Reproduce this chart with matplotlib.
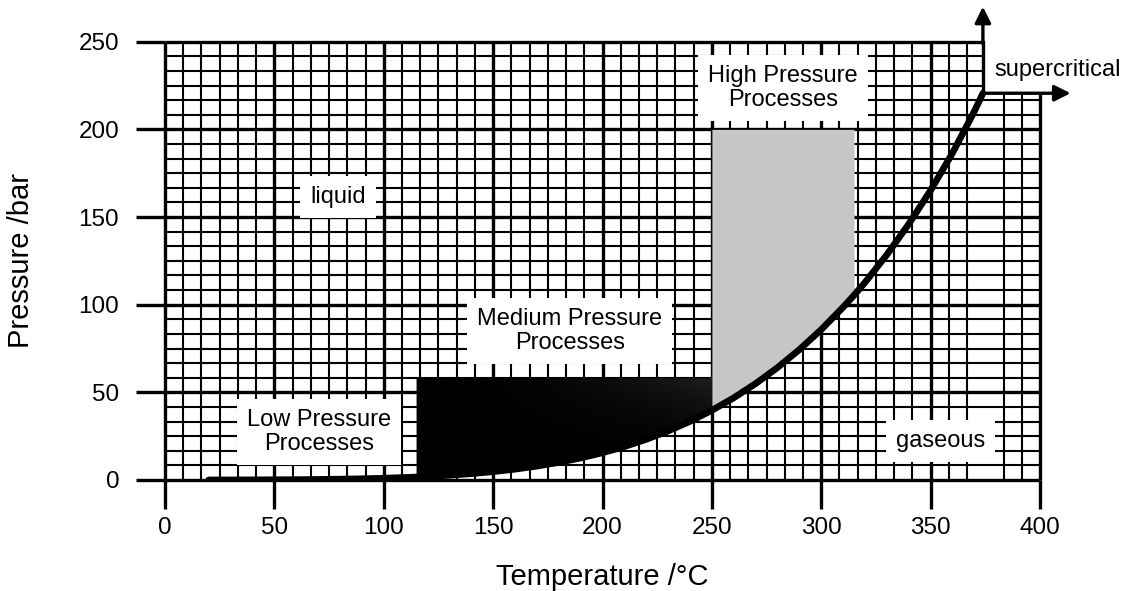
import numpy as np
import matplotlib
matplotlib.use("Agg")
import matplotlib.pyplot as plt
from matplotlib.patches import Polygon

plt.rcParams['font.family'] = ['Liberation Sans', 'DejaVu Sans']

# Saturation (vapour pressure) curve of water
temp_c = [20, 30, 40, 50, 60, 70, 80, 90, 100, 110, 115, 120, 130, 140, 150,
          160, 170, 180, 190, 200, 210, 220, 230, 240, 250, 260, 270, 280,
          290, 300, 310, 315, 320, 330, 340, 350, 360, 370, 373.9]
p_sat_bar = [0.023, 0.042, 0.074, 0.124, 0.199, 0.312, 0.474, 0.701, 1.013,
             1.433, 1.691, 1.985, 2.701, 3.614, 4.76, 6.18, 7.92, 10.03,
             12.55, 15.54, 19.06, 23.18, 27.95, 33.44, 39.73, 46.88, 54.99,
             64.12, 74.36, 85.81, 98.56, 105.4, 112.7, 128.5, 146.0, 165.2,
             186.5, 210.3, 220.6]

# Critical point
t_crit, p_crit = 373.9, 220.6

# Process windows: (T from, T to, upper pressure)
low_window = (20, 115, 2.0)
medium_window = (115, 250, 58.0)
high_window = (250, 315, 200.0)

x_ticks = [0, 50, 100, 150, 200, 250, 300, 350, 400]
y_ticks = [0, 50, 100, 150, 200, 250]

T = np.array(temp_c)
P = np.array(p_sat_bar)

fig = plt.figure(figsize=(11.28, 5.91), dpi=100)
ax = fig.add_axes([165 / 1128, 111 / 591, 875 / 1128, 438.3 / 591])
ax.set_xlim(0, 400)
ax.set_ylim(0, 250)
for s in ax.spines.values():
    s.set_visible(False)

# Graph-paper grid: six subdivisions per 50 units, stepped corner at the critical point
step = 50 / 6
for k in range(49):
    x = k * step
    if abs(x - t_crit) < 3:
        continue
    top = 250 if x < t_crit else p_crit
    lw = 2.4 if k % 6 == 0 else 1.5
    ax.plot([x, x], [0, top], color='k', lw=lw, zorder=1, clip_on=False,
            solid_capstyle='butt')
for k in range(31):
    y = k * step
    right = 400 if y <= p_crit else t_crit
    lw = 2.4 if k % 6 == 0 else 1.5
    ax.plot([0, right], [y, y], color='k', lw=lw, zorder=1, clip_on=False,
            solid_capstyle='butt')
ax.plot([t_crit, t_crit], [p_crit, 250], color='k', lw=2.4, zorder=1,
        clip_on=False)

# Low-pressure band along the curve
t0, t1, ptop = low_window
m = (T >= t0) & (T <= t1)
ax.fill_between(T[m], P[m], ptop, color='k', lw=0, zorder=2)

# Medium-pressure window (dark, faintly lighter towards the upper right)
t0, t1, ptop = medium_window
m = (T >= t0) & (T <= t1)
verts = list(zip(T[m], P[m])) + [(t1, ptop), (t0, ptop)]
poly = Polygon(verts, closed=True, facecolor='k', edgecolor='none', zorder=2)
ax.add_patch(poly)
gx = np.linspace(0, 1, 200)
gy = np.linspace(0, 1, 60)
GX, GY = np.meshgrid(gx, gy)
shade = 0.12 * GX ** 2 * GY ** 2
im = ax.imshow(shade, extent=[t0, t1, 0, ptop], origin='lower', cmap='gray',
               vmin=0, vmax=1, aspect='auto', zorder=2.1, interpolation='bilinear')
im.set_clip_path(poly)

# High-pressure window
t0, t1, ptop = high_window
m = (T >= t0) & (T <= t1)
ax.fill_between(T[m], P[m], ptop, color='#c6c6c6', lw=0, zorder=2)

# Saturation curve
ax.plot(T, P, color='k', lw=4.8, zorder=3, solid_capstyle='round')

# Supercritical arrows
ax.annotate('', xy=(t_crit, 270), xytext=(t_crit, 249),
            arrowprops=dict(arrowstyle='-|>', lw=2.4, color='k',
                            mutation_scale=24, shrinkA=0, shrinkB=0),
            annotation_clip=False, zorder=3)
ax.annotate('', xy=(414, p_crit), xytext=(t_crit, p_crit),
            arrowprops=dict(arrowstyle='-|>', lw=2.4, color='k',
                            mutation_scale=24, shrinkA=0, shrinkB=0),
            annotation_clip=False, zorder=3)

# Region labels
box = dict(boxstyle='square,pad=0.42', facecolor='white', edgecolor='none')
lab_fs = 17
ax.text(79, 161.5, 'liquid', fontsize=lab_fs, ha='center', va='center',
        bbox=box, zorder=4)
ax.text(70.5, 27.4, 'Low Pressure\nProcesses', fontsize=lab_fs, ha='center',
        va='center', linespacing=1.12, bbox=box, zorder=4)
ax.text(185, 85, 'Medium Pressure\nProcesses', fontsize=lab_fs, ha='center',
        va='center', linespacing=1.12, bbox=box, zorder=4)
ax.text(282.5, 223.6, 'High Pressure\nProcesses', fontsize=lab_fs, ha='center',
        va='center', linespacing=1.12, bbox=box, zorder=4)
ax.text(354.7, 22.2, 'gaseous', fontsize=lab_fs, ha='center', va='center',
        bbox=box, zorder=4)
ax.text(408, 234, 'supercritical', fontsize=lab_fs, ha='center', va='center',
        zorder=4, clip_on=False)

# Axes ticks and labels
ax.set_xticks(x_ticks)
ax.set_yticks(y_ticks)
ax.set_xticklabels([str(v) for v in x_ticks])
ax.set_yticklabels([str(v) for v in y_ticks])
ax.tick_params(axis='both', length=21, width=2.4, labelsize=17.5, color='k')
ax.tick_params(axis='x', pad=6)
ax.tick_params(axis='y', pad=12)

ax.set_xlabel('Temperature /°C', fontsize=21)
ax.set_ylabel('Pressure /bar', fontsize=21)
ax.xaxis.set_label_coords(0.5, -0.19)
ax.yaxis.set_label_coords(-0.148, 0.5)

fig.savefig('out.png', dpi=100)
